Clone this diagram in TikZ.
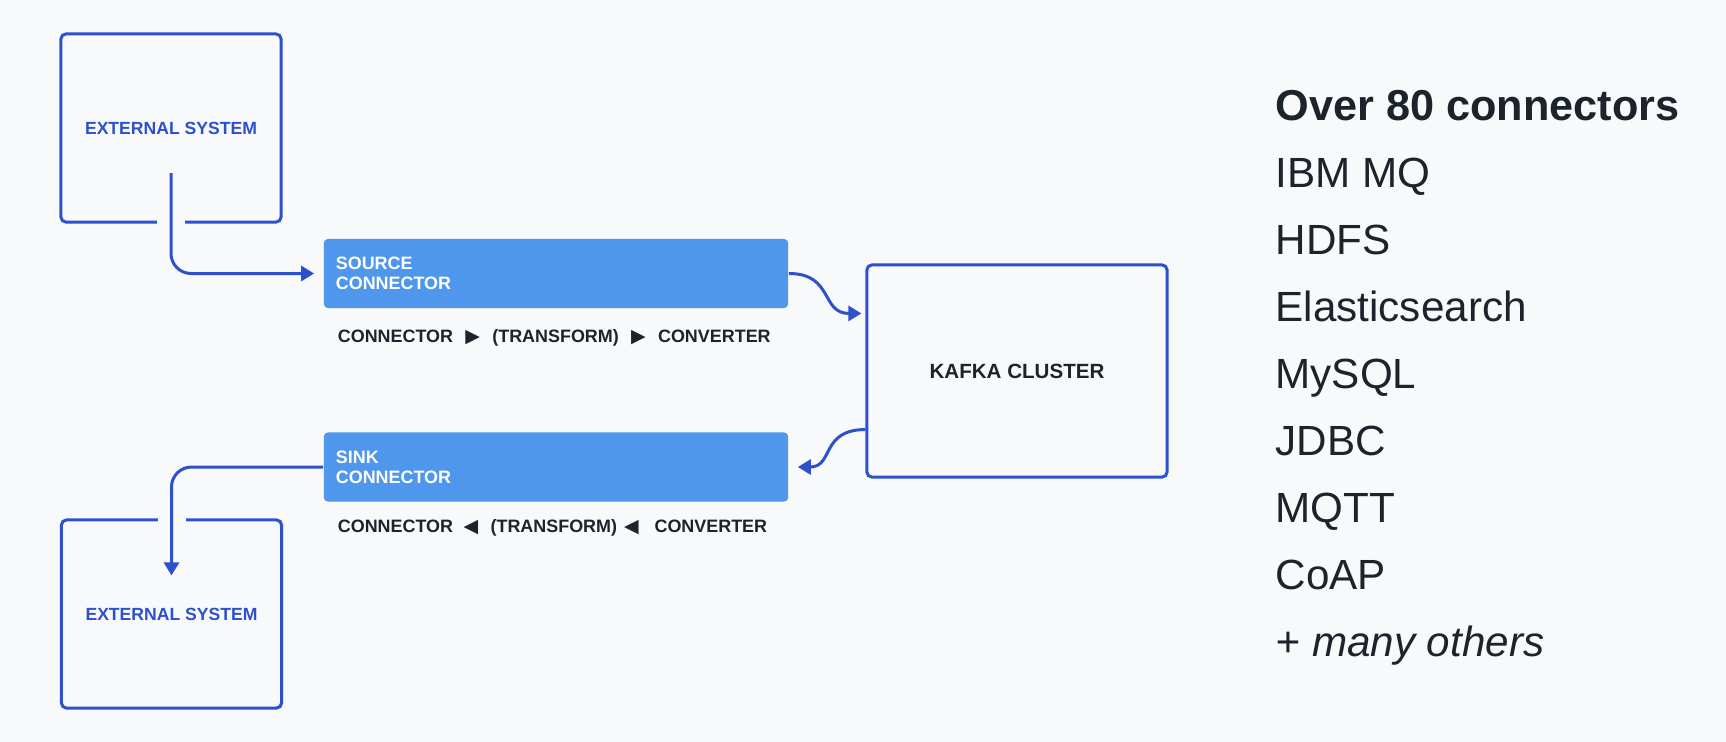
\documentclass[tikz,border=0pt]{standalone}
\usepackage{fontspec}
\setmainfont{Liberation Sans}
\newfontfamily\symbfont{DejaVu Sans}
\usetikzlibrary{positioning, calc, arrows.meta}

\definecolor{pagebg}{RGB}{248,249,250}
\definecolor{lineblue}{RGB}{45,80,205}
\definecolor{boxblue}{RGB}{79,151,236}
\definecolor{inkdark}{RGB}{28,35,43}

\newcommand{\rtri}{{\symbfont\fontsize{5.4}{5}\selectfont ▶}}
\newcommand{\ltri}{{\symbfont\fontsize{5.4}{5}\selectfont ◀}}

\tikzset{
  extsys/.style={draw=lineblue, line width=0.03cm, rounded corners=0.05cm,
    minimum width=2.2cm, minimum height=1.88cm, text=lineblue,
    font=\bfseries\fontsize{5}{6}\selectfont},
  connbox/.style={fill=boxblue, rounded corners=0.04cm, minimum height=0.69cm,
    text width=4.40cm, inner xsep=0.12cm, inner ysep=0pt, align=left,
    text=white, font=\bfseries\fontsize{5.1}{5.7}\selectfont},
  cluster/.style={draw=lineblue, line width=0.03cm, rounded corners=0.05cm,
    minimum width=3.0cm, minimum height=2.12cm, text=inkdark,
    font=\bfseries\fontsize{5.85}{7}\selectfont},
  pipeline/.style={anchor=west, inner sep=0pt, text=inkdark,
    font=\bfseries\fontsize{5.1}{6}\selectfont},
  flow/.style={draw=lineblue, line width=0.03cm, -{Triangle[length=0.13cm,width=0.15cm]}},
  gap/.style={draw=pagebg, line width=0.08cm},
  listitem/.style={anchor=base west, inner sep=0pt, text=inkdark,
    font=\fontsize{12}{14}\selectfont},
}

\begin{document}
\begin{tikzpicture}[x=0.01cm, y=-0.01cm]
    \fill[pagebg] (0,0) rectangle (1726,742);

    % systems and connectors
    \node[extsys] (ext1) at (171,128) {EXTERNAL SYSTEM};
    \node[connbox] (src) at (556,273.5) {SOURCE\\CONNECTOR};
    \node[cluster] (kafka) at (1017,371) {KAFKA CLUSTER};
    \node[connbox] (sink) at (556,467) {SINK\\CONNECTOR};
    \node[extsys] (ext2) at (171.5,614) {EXTERNAL SYSTEM};

    \node[pipeline] (srcsteps) at ($(src.south west)+(14,29)$)
        {CONNECTOR\hspace{3.5pt}\rtri\hspace{3.5pt}(TRANSFORM)\hspace{3.5pt}\rtri\hspace{3.5pt}CONVERTER};
    \node[pipeline] (sinksteps) at ($(sink.south west)+(14,26)$)
        {CONNECTOR\hspace{3pt}\ltri\hspace{3.5pt}(TRANSFORM)\hspace{2pt}\ltri\hspace{4.5pt}CONVERTER};

    % flows
    \coordinate (srcfeed) at ($(ext1.center)+(0,45)$);
    \coordinate (sinkfeed) at ($(kafka.south west)+(0,-49)$);
    \coordinate (sinkdrop) at ($(ext2.north)+(0,57)$);

    \draw[gap] ($(ext1.south)+(-14,0)$) -- ($(ext1.south)+(14,0)$);
    \draw[gap] ($(ext2.north)+(-14,0)$) -- ($(ext2.north)+(14,0)$);

    \draw[flow, rounded corners=0.2cm, shorten >=0.09cm] (srcfeed) |- (src.west);
    \draw[flow, shorten >=0.04cm] (src.east) .. controls +(45,0) and +(-45,0) .. ($(kafka.north west)+(0,50)$);
    \draw[flow, shorten >=0.09cm] (sinkfeed) .. controls +(-45,0) and +(45,0) .. (sink.east);
    \draw[flow, rounded corners=0.2cm] (sink.west) -| (sinkdrop);

    % connector list
    \node[listitem, font=\bfseries\fontsize{12.3}{14}\selectfont] (title) at (1275,120) {Over 80 connectors};
    \foreach \conn [count=\i] in {IBM MQ, HDFS, Elasticsearch, MySQL, JDBC, MQTT, CoAP}
        \node[listitem] (item\i) at (1275,{120+67*\i}) {\conn};
    \node[listitem, font=\itshape\fontsize{12}{14}\selectfont] (others) at (1275,656) {+ many others};

\end{tikzpicture}
\end{document}
